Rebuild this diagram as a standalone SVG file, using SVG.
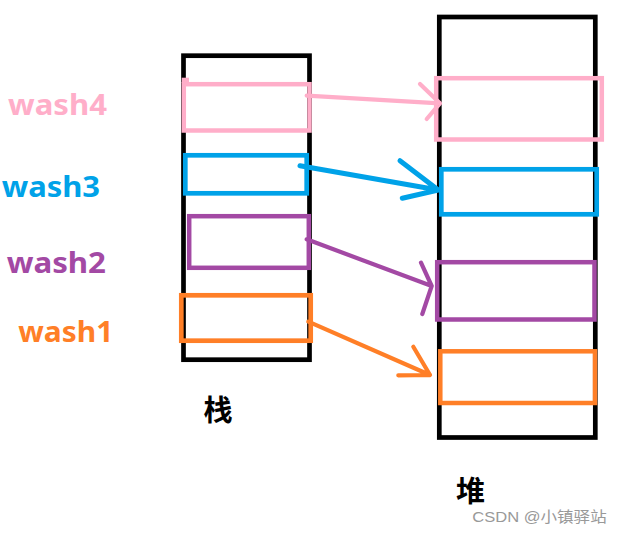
<svg xmlns="http://www.w3.org/2000/svg" width="624" height="534" viewBox="0 0 624 534">
<style>
.frame{fill:none;stroke:#000;stroke-width:4.7}
.box{fill:none;stroke-width:4.5}
.arr{fill:none;stroke-width:4.2;stroke-linecap:round;stroke-linejoin:round}
.pink{stroke:#FFAEC9}.blue{stroke:#00A2E8}.purple{stroke:#A349A4}.orange{stroke:#FF7F27}
.lbl{font-family:"Microsoft YaHei","Noto Sans","Open Sans",sans-serif;font-weight:bold;font-size:29px}
.cjk{font-family:"Noto Sans CJK SC",sans-serif;font-weight:bold;font-size:29px;fill:#000}
.wm{font-family:"Liberation Sans","Noto Sans CJK SC",sans-serif;font-size:15px;fill:#999}
</style>
<rect width="624" height="534" fill="#fff"/>
<g id="stack">
<rect class="frame" x="183.5" y="55.7" width="126" height="304"/>
<text class="cjk" x="218" y="421" text-anchor="middle">栈</text>
</g>
<g id="heap">
<rect class="frame" x="439.3" y="17" width="156" height="420.5"/>
<text class="cjk" x="470.5" y="502" text-anchor="middle">堆</text>
</g>
<g id="wash4">
<text class="lbl" x="8" y="115" fill="#FFAEC9" textLength="99" lengthAdjust="spacingAndGlyphs">wash4</text>
<rect x="181.7" y="77.7" width="7.3" height="5" fill="#FFAEC9"/>
<rect class="box pink" x="183.8" y="84.2" width="125.7" height="46.3"/>
<rect class="box pink" x="436.2" y="78.2" width="165.6" height="61.3"/>
</g>
<g id="wash3">
<text class="lbl" x="1.7" y="196.7" fill="#00A2E8" textLength="98.3" lengthAdjust="spacingAndGlyphs">wash3</text>
<rect class="box blue" x="185.3" y="155.3" width="121.4" height="38" style="stroke-width:4.7"/>
<rect class="box blue" x="441.3" y="169.3" width="155.4" height="45" style="stroke-width:4.7"/>
</g>
<g id="wash2">
<text class="lbl" x="6.7" y="273.3" fill="#A349A4" textLength="99.3" lengthAdjust="spacingAndGlyphs">wash2</text>
<rect class="box purple" x="189.2" y="216.2" width="119.6" height="51.6"/>
<rect class="box purple" x="437.2" y="262.2" width="157.3" height="57.3"/>
</g>
<g id="wash1">
<text class="lbl" x="18.3" y="341.7" fill="#FF7F27" textLength="95" lengthAdjust="spacingAndGlyphs">wash1</text>
<rect class="box orange" x="181.3" y="295.3" width="129.4" height="45.4" style="stroke-width:4.7"/>
<rect class="box orange" x="440.3" y="351.3" width="154.7" height="51.7"/>
</g>
<g id="connectors">
<path class="arr pink" d="M306.7 95.7 L440 103.3 M420 84 L440 103.3 L426.7 119"/>
<path class="arr blue" d="M300 165.7 L438.3 190 M400 160.7 L438.3 190 L402.3 198.3" style="stroke-width:5"/>
<path class="arr purple" d="M306.7 239.3 L431.7 286 M421 262.7 L431.7 286 L422.3 314"/>
<path class="arr orange" d="M308.3 321.7 L430 375 M413.3 346.7 L430 375 L398.3 375.3"/>
</g>
<text class="wm" x="472.3" y="522" textLength="134.4" lengthAdjust="spacingAndGlyphs">CSDN @小镇驿站</text>
</svg>
